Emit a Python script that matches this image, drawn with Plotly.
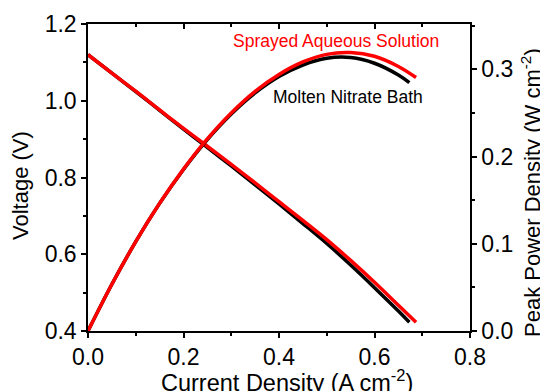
import plotly.graph_objects as go

# Data
current_red = [0.0, 0.05, 0.1, 0.15, 0.2, 0.245, 0.3, 0.35, 0.4, 0.45, 0.5, 0.55, 0.6, 0.65, 0.687]
voltage_red = [1.120, 1.072, 1.025, 0.976, 0.928, 0.886, 0.834, 0.786, 0.737, 0.688, 0.638, 0.584, 0.527, 0.467, 0.423]
power_red = [0.0, 0.0536, 0.1025, 0.1464, 0.1856, 0.2171, 0.2500, 0.2748, 0.2942, 0.3085, 0.3172, 0.3192, 0.3150, 0.3033, 0.2906]

current_black = [0.0, 0.05, 0.1, 0.15, 0.2, 0.245, 0.3, 0.35, 0.4, 0.45, 0.5, 0.55, 0.6, 0.65, 0.673]
voltage_black = [1.120, 1.072, 1.024, 0.975, 0.926, 0.883, 0.830, 0.781, 0.731, 0.680, 0.628, 0.572, 0.513, 0.452, 0.423]
power_black = [0.0, 0.0536, 0.1024, 0.1463, 0.1852, 0.2163, 0.2488, 0.2730, 0.2918, 0.3050, 0.3127, 0.3135, 0.3070, 0.2935, 0.2847]

label_red = "Sprayed Aqueous Solution"
label_black = "Molten Nitrate Bath"
x_title = "Current Density (A cm<sup>-2</sup>)"
y_title = "Voltage (V)"
y2_title = "Peak Power Density (W cm<sup>-2</sup>)"

FONT = "Arial, Liberation Sans, sans-serif"
LW = 3.5

fig = go.Figure()
fig.add_trace(go.Scatter(x=current_black, y=voltage_black, mode="lines",
                         line=dict(color="black", width=LW, shape="spline"), showlegend=False))
fig.add_trace(go.Scatter(x=current_black, y=power_black, mode="lines", yaxis="y2",
                         line=dict(color="black", width=LW, shape="spline"), showlegend=False))
fig.add_trace(go.Scatter(x=current_red, y=voltage_red, mode="lines",
                         line=dict(color="#ff0000", width=LW, shape="spline"), showlegend=False))
fig.add_trace(go.Scatter(x=current_red, y=power_red, mode="lines", yaxis="y2",
                         line=dict(color="#ff0000", width=LW, shape="spline"), showlegend=False))
# invisible trace to activate top axis
fig.add_trace(go.Scatter(x=[0.0], y=[0.4], xaxis="x2", mode="markers",
                         marker=dict(opacity=0), showlegend=False, hoverinfo="skip"))

axis_common = dict(showline=True, linecolor="black", linewidth=1.5, showgrid=False, automargin=False,
                   zeroline=False, ticks="outside", ticklen=5, tickwidth=1.5, tickcolor="black",
                   tickfont=dict(family=FONT, size=23, color="black"))
minor_out = dict(ticks="outside", ticklen=3, tickcolor="black", tickwidth=1.5)

# page body has an 8px margin, so the figure is sized/placed to compensate
fig.update_layout(
    width=540, height=383,
    margin=dict(l=80, r=78, t=16, b=60),
    plot_bgcolor="white", paper_bgcolor="white",
    xaxis=dict(range=[0, 0.8], dtick=0.2, tickformat=".1f", minor=dict(dtick=0.1, **minor_out), **axis_common),
    xaxis2=dict(range=[0, 0.8], overlaying="x", side="top", showline=True, linecolor="black", linewidth=1.5,
                showgrid=False, zeroline=False, ticks="inside", ticklen=5, tickwidth=1.5, tickcolor="black",
                dtick=0.2, showticklabels=False, automargin=False,
                minor=dict(dtick=0.1, ticks="inside", ticklen=3, tickcolor="black", tickwidth=1.5)),
    yaxis=dict(range=[0.4, 1.2], dtick=0.2, tickformat=".1f", minor=dict(dtick=0.1, **minor_out), **axis_common),
    yaxis2=dict(range=[0, 0.352], dtick=0.1, tickformat=".1f", overlaying="y", side="right",
                minor=dict(dtick=0.05, **minor_out), **axis_common),
    annotations=[
        dict(x=0.520, y=1.156, xref="x", yref="y", text=label_red, showarrow=False,
             font=dict(family=FONT, size=17.5, color="#ff0000")),
        dict(x=0.544, y=1.011, xref="x", yref="y", text=label_black, showarrow=False,
             font=dict(family=FONT, size=17.5, color="black")),
        dict(x=0.522, y=-0.162, xref="paper", yref="paper", text=x_title, showarrow=False,
             xanchor="center", yanchor="middle", font=dict(family=FONT, size=23.5, color="black")),
        dict(x=-0.1754, y=0.4756, xref="paper", yref="paper", text=y_title, showarrow=False, textangle=-90,
             xanchor="center", yanchor="middle", font=dict(family=FONT, size=22, color="black")),
        dict(x=1.1597, y=0.4495, xref="paper", yref="paper", text=y2_title, showarrow=False, textangle=-90,
             xanchor="center", yanchor="middle", font=dict(family=FONT, size=22, color="black")),
    ],
)

fig.write_html("out.html")
